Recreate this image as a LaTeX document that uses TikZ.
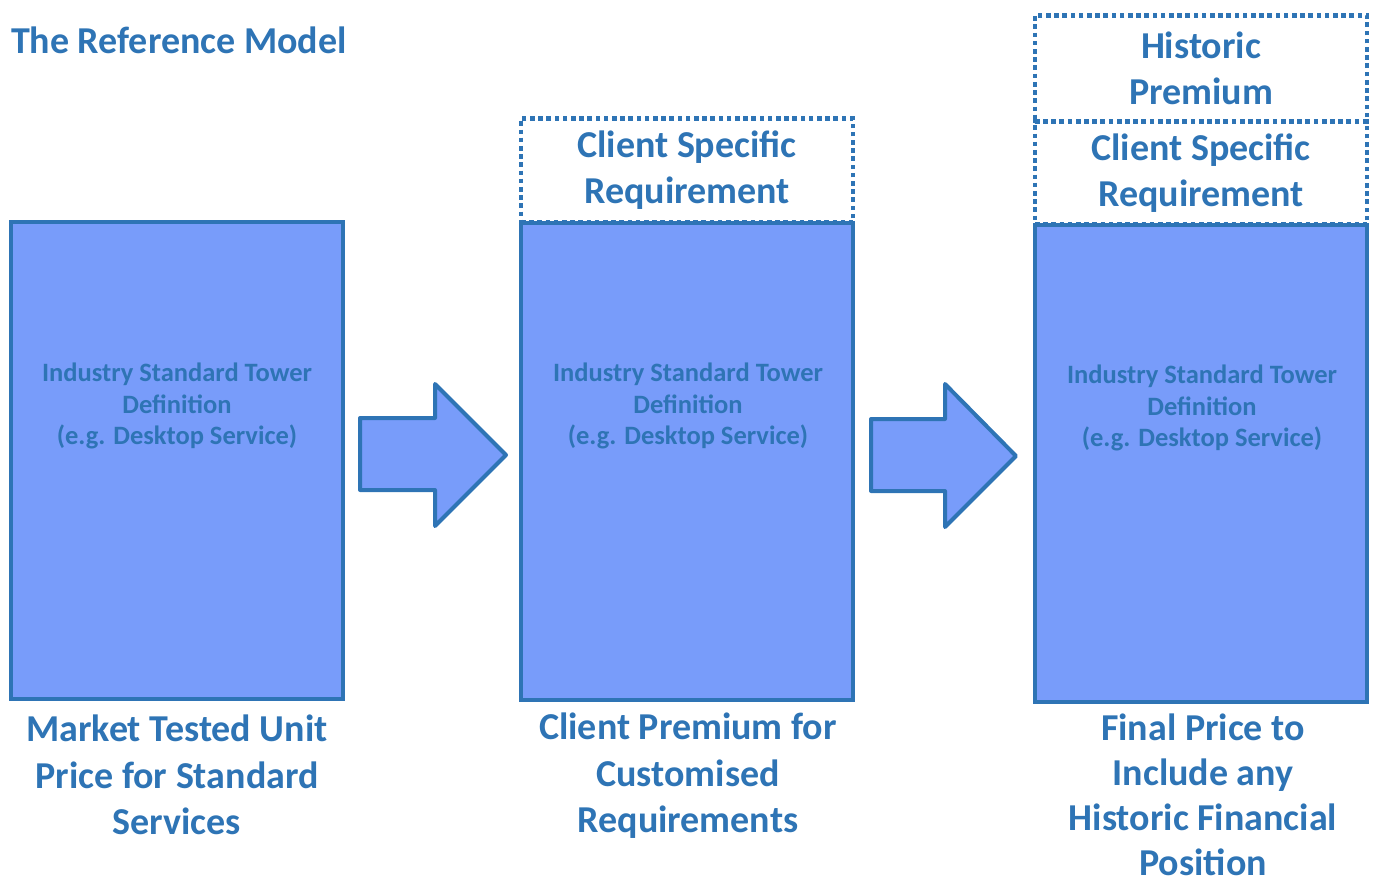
\documentclass[tikz,border=0pt]{standalone}
\usepackage{fontspec}
\setmainfont{Carlito}
\usetikzlibrary{positioning}
\definecolor{towerfill}{HTML}{789CFA}
\definecolor{towerline}{HTML}{2E74B5}
\begin{document}
\begin{tikzpicture}[x=1pt,y=-1pt,line width=4pt,
  tower/.style={draw=towerline,fill=towerfill,minimum width=332pt,minimum height=477pt,inner sep=0pt,outer sep=0pt},
  extra/.style={draw=towerline,line width=4.8pt,dash pattern=on 4.6pt off 3.6pt,minimum width=332pt,inner sep=0pt,outer sep=0pt,
    text=towerline,align=center,font=\bfseries\fontsize{38}{46}\selectfont},
  inner/.style={text=towerline,align=center,font=\bfseries\fontsize{26.5}{31.5}\selectfont},
  caption/.style={text=towerline,align=center,font=\bfseries\fontsize{38}{46.5}\selectfont},
  bigarrow/.style={draw=towerline,fill=towerfill,line join=round}]
\useasboundingbox (0,0) rectangle (1378,883);
\node[text=towerline,anchor=west,inner sep=0pt,font=\bfseries\fontsize{38}{44}\selectfont] (title) at (9,40) {The Reference Model};
% towers
\node[tower] (t1) at (177,460) {};
\node[tower] (t2) at (687,461) {};
\node[tower] (t3) at (1201,463) {};
\node[extra,minimum height=104pt,above=0pt of t2] (c2) {Client Specific\\Requirement};
\node[extra,minimum height=103pt,above=0pt of t3] (c3) {Client Specific\\Requirement};
\node[extra,minimum height=106pt,above=0pt of c3] (h3) {Historic\\Premium};
\node[inner] (d1) at (177,406) {Industry Standard Tower\\Definition\\(e.g. Desktop Service)};
\node[inner] (d2) at (688,406) {Industry Standard Tower\\Definition\\(e.g. Desktop Service)};
\node[inner] (d3) at (1202,408) {Industry Standard Tower\\Definition\\(e.g. Desktop Service)};
% captions
\node[caption] (l1) at (177,775) {Market Tested Unit\\Price for Standard\\Services};
\node[caption] (l2) at (688,776) {Client Premium for\\Customised\\Requirements};
\node[caption,font=\bfseries\fontsize{38}{45}\selectfont] (l3) at (1203,795) {Final Price to\\Include any\\Historic Financial\\Position};
% arrows
\draw[bigarrow](360,418)--(435,418)--(435,384)--(506,455)--(435,526)--(435,490)--(360,490)--cycle;
\draw[bigarrow](871,419)--(945,419)--(945,384)--(1016,456)--(945,527)--(945,491)--(871,491)--cycle;
\end{tikzpicture}
\end{document}
